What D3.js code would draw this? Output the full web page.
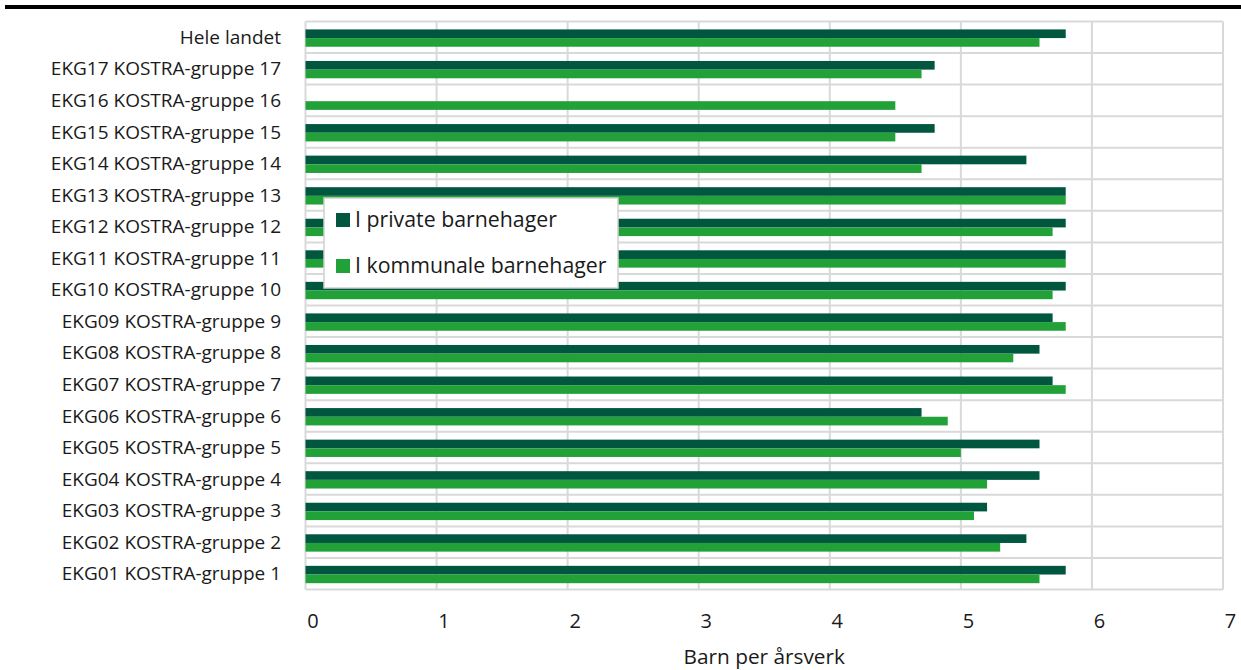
<!DOCTYPE html>
<html><head><meta charset="utf-8">
<script src="https://cdn.jsdelivr.net/npm/d3@7"></script>
<style>body{margin:0;background:#fff}svg{display:block}</style>
</head><body>
<script>
const categories = ["Hele landet","EKG17 KOSTRA-gruppe 17","EKG16 KOSTRA-gruppe 16","EKG15 KOSTRA-gruppe 15","EKG14 KOSTRA-gruppe 14","EKG13 KOSTRA-gruppe 13","EKG12 KOSTRA-gruppe 12","EKG11 KOSTRA-gruppe 11","EKG10 KOSTRA-gruppe 10","EKG09 KOSTRA-gruppe 9","EKG08 KOSTRA-gruppe 8","EKG07 KOSTRA-gruppe 7","EKG06 KOSTRA-gruppe 6","EKG05 KOSTRA-gruppe 5","EKG04 KOSTRA-gruppe 4","EKG03 KOSTRA-gruppe 3","EKG02 KOSTRA-gruppe 2","EKG01 KOSTRA-gruppe 1"];
const privateValues = [5.8,4.8,null,4.8,5.5,5.8,5.8,5.8,5.8,5.7,5.6,5.7,4.7,5.6,5.6,5.2,5.5,5.8];
const kommunalValues = [5.6,4.7,4.5,4.5,4.7,5.8,5.7,5.8,5.7,5.8,5.4,5.8,4.9,5.0,5.2,5.1,5.3,5.6];
const seriesNames = ["I private barnehager","I kommunale barnehager"];
const seriesColors = ["#00563F","#22A139"];
const xTicks = [0,1,2,3,4,5,6,7];
const xTitle = "Barn per årsverk";

const W = 1241, H = 670;
const m = {left:305.5, right:1223, top:21.5, bottom:589.5};
const font = "'Open Sans', 'Noto Sans', sans-serif";
const svg = d3.select("body").append("svg").attr("width",W).attr("height",H);

svg.append("rect").attr("x",5).attr("y",5).attr("width",W-5).attr("height",4).attr("fill","#000");

const x = d3.scaleLinear().domain([0,7]).range([m.left,m.right]);
const y = d3.scaleBand().domain(categories).range([m.top,m.bottom]).paddingInner(0).paddingOuter(0);
const inner = d3.scaleBand().domain([0,1]).range([0.8,y.bandwidth()+0.8]).paddingInner(0).paddingOuter(0.82);

const grid = svg.append("g").attr("stroke","#d9d9d9").attr("stroke-width",2);
xTicks.forEach(t=>grid.append("line").attr("x1",x(t)).attr("x2",x(t)).attr("y1",m.top).attr("y2",m.bottom));
categories.forEach(c=>grid.append("line").attr("x1",m.left).attr("x2",m.right).attr("y1",y(c)).attr("y2",y(c)));
grid.append("line").attr("x1",m.left).attr("x2",m.right).attr("y1",m.bottom).attr("y2",m.bottom);

const series = [privateValues, kommunalValues];
series.forEach((vals,si)=>{
  svg.append("g").selectAll("rect").data(categories.map((c,i)=>({c,v:vals[i]})).filter(d=>d.v!=null))
    .join("rect")
    .attr("x",x(0)).attr("y",d=>y(d.c)+inner(si))
    .attr("width",d=>x(d.v)-x(0)).attr("height",inner.bandwidth())
    .attr("fill",seriesColors[si]);
});

// category labels
const yAxis = d3.axisLeft(y).tickSize(0).tickPadding(0);
const ya = svg.append("g").attr("transform",`translate(281,0)`).call(yAxis);
ya.select(".domain").remove();
ya.selectAll("text").attr("font-family",font).attr("font-size",19).attr("fill","#1a1a1a").attr("dy","0.35em");

// x axis
const xAxis = d3.axisBottom(x).tickValues(xTicks).tickSize(0).tickPadding(0).tickFormat(d3.format("d"));
const xa = svg.append("g").attr("transform",`translate(7,${m.bottom+38})`).call(xAxis);
xa.select(".domain").remove();
xa.selectAll("text").attr("font-family",font).attr("font-size",20).attr("fill","#1a1a1a").attr("dy","0");

svg.append("text").attr("x",(m.left+m.right)/2).attr("y",664).attr("text-anchor","middle")
  .attr("font-family",font).attr("font-size",20.8).attr("fill","#1a1a1a").text(xTitle);

// legend
const lg = svg.append("g");
lg.append("rect").attr("x",324).attr("y",198).attr("width",294).attr("height",90)
  .attr("fill","#fff").attr("stroke","#d0d0d0").attr("stroke-width",1.5);
seriesNames.forEach((n,i)=>{
  const cy = 220 + i*46;
  lg.append("rect").attr("x",336).attr("y",cy-7).attr("width",14).attr("height",14).attr("fill",seriesColors[i]);
  lg.append("text").attr("x",355).attr("y",cy).attr("dy","0.35em").attr("font-family",font).attr("font-size",21.3).attr("fill","#1a1a1a").text(n);
});
</script>
</body></html>
